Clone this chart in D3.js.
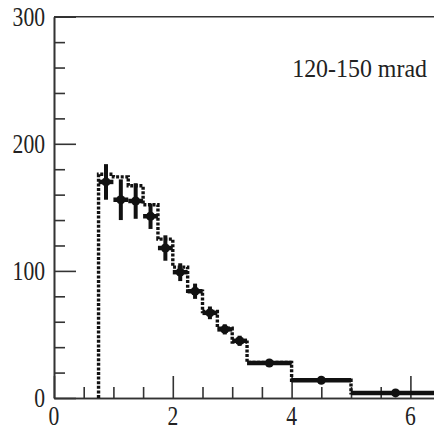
<!DOCTYPE html>
<html>
<head>
<meta charset="utf-8">
<script src="https://cdn.jsdelivr.net/npm/d3@7"></script>
<style>
body{margin:0;background:#fff;}
svg{display:block;}
</style>
</head>
<body>
<script>
// bins (lower / upper edges) of the distribution
var binLo=[0.75,1.0,1.25,1.5,1.75,2.0,2.25,2.5,2.75,3.0,3.25,4.0,5.0];
var binHi=[1.0,1.25,1.5,1.75,2.0,2.25,2.5,2.75,3.0,3.25,4.0,5.0,6.5];
// dotted histogram (model)
var histo=[176,174,167,152,125,103,84,68,55,44,28,14,4];
// data points with errors
var dataY=[170,156,155,143,118,99,84,67,54,45,27.5,14,4];
var dataErr=[14,16,14,10,10,7,6,5,4,4,2.5,2,1.5];
var xMajor=[0,2,4,6];
var xMinor=[0.5,1,1.5,2.5,3,3.5,4.5,5,5.5];
var yMajor=[0,100,200,300];
var yMinor=[20,40,60,80,120,140,160,180,220,240,260,280];
var label="120-150 mrad";

var W=434,H=430;
var svg=d3.select("body").append("svg").attr("width",W).attr("height",H);

var x=d3.scaleLinear().domain([0,6.5]).range([54,54+6.5*59.4]);
var y=d3.scaleLinear().domain([0,300]).range([398,16.7]);

var axisColor="#333";

// frame: left axis, bottom axis, top line (ticks inside)
svg.append("g").attr("transform","translate("+x(0)+",0)")
.call(d3.axisLeft(y).tickValues(yMinor).tickSize(-11).tickSizeOuter(0).tickFormat(""));
svg.append("g").attr("transform","translate("+x(0)+",0)")
.call(d3.axisLeft(y).tickValues(yMajor).tickSize(-22).tickSizeOuter(0).tickFormat(""));

svg.append("g").attr("transform","translate(0,"+y(0)+")")
.call(d3.axisBottom(x).tickValues(xMinor).tickSize(-11).tickSizeOuter(0).tickFormat(""));
svg.append("g").attr("transform","translate(0,"+y(0)+")")
.call(d3.axisBottom(x).tickValues(xMajor).tickSize(-22).tickSizeOuter(0).tickFormat(""));

svg.selectAll(".domain, .tick line").attr("stroke",axisColor).attr("stroke-width",1.6);

svg.append("line")
.attr("x1",x(0)).attr("x2",W)
.attr("y1",y(300)).attr("y2",y(300))
.attr("stroke",axisColor).attr("stroke-width",1.6);

// tick labels
svg.selectAll(".ylab").data(yMajor).enter().append("text")
.attr("transform",function(d){return "translate(45,"+y(d)+") scale(0.8,1)";})
.attr("text-anchor","end").attr("dy","0.34em")
.attr("font-family","Liberation Serif").attr("font-size",27).attr("fill","#222")
.text(function(d){return d;});

svg.selectAll(".xlab").data(xMajor).enter().append("text")
.attr("transform",function(d){return "translate("+x(d)+",425) scale(0.8,1)";})
.attr("text-anchor","middle")
.attr("font-family","Liberation Serif").attr("font-size",27).attr("fill","#222")
.text(function(d){return d;});

// histogram as dotted steps
var pts=[[binLo[0],0]];
histo.forEach(function(v,i){
	pts.push([binLo[i],v]);
	pts.push([binHi[i],v]);
});
var line=d3.line().x(function(d){return x(d[0]);}).y(function(d){return y(d[1]);});
svg.append("path")
.attr("d",line(pts))
.attr("fill","none")
.attr("stroke","#111")
.attr("stroke-width",3.4)
.attr("stroke-dasharray","3,1.6");

// data points with error bars
var pts2=dataY.map(function(v,i){return {lo:binLo[i],hi:binHi[i],c:(binLo[i]+binHi[i])/2,v:v,e:dataErr[i]};});
var g=svg.append("g");
g.selectAll(".hbar").data(pts2).enter().append("line")
.attr("x1",function(d){return x(d.lo);}).attr("x2",function(d){return x(d.hi);})
.attr("y1",function(d){return y(d.v);}).attr("y2",function(d){return y(d.v);})
.attr("stroke","#111").attr("stroke-width",4.5);
g.selectAll(".vbar").data(pts2).enter().append("line")
.attr("x1",function(d){return x(d.c);}).attr("x2",function(d){return x(d.c);})
.attr("y1",function(d){return y(d.v-d.e);}).attr("y2",function(d){return y(d.v+d.e);})
.attr("stroke","#111").attr("stroke-width",4);
g.selectAll("circle").data(pts2).enter().append("circle")
.attr("cx",function(d){return x(d.c);}).attr("cy",function(d){return y(d.v);})
.attr("r",4.5).attr("fill","#111");

// label
svg.append("text")
.attr("transform","translate(427,77) scale(0.92,1)")
.attr("text-anchor","end")
.attr("font-family","Liberation Serif").attr("font-size",26).attr("fill","#222")
.text(label);
</script>
</body>
</html>
